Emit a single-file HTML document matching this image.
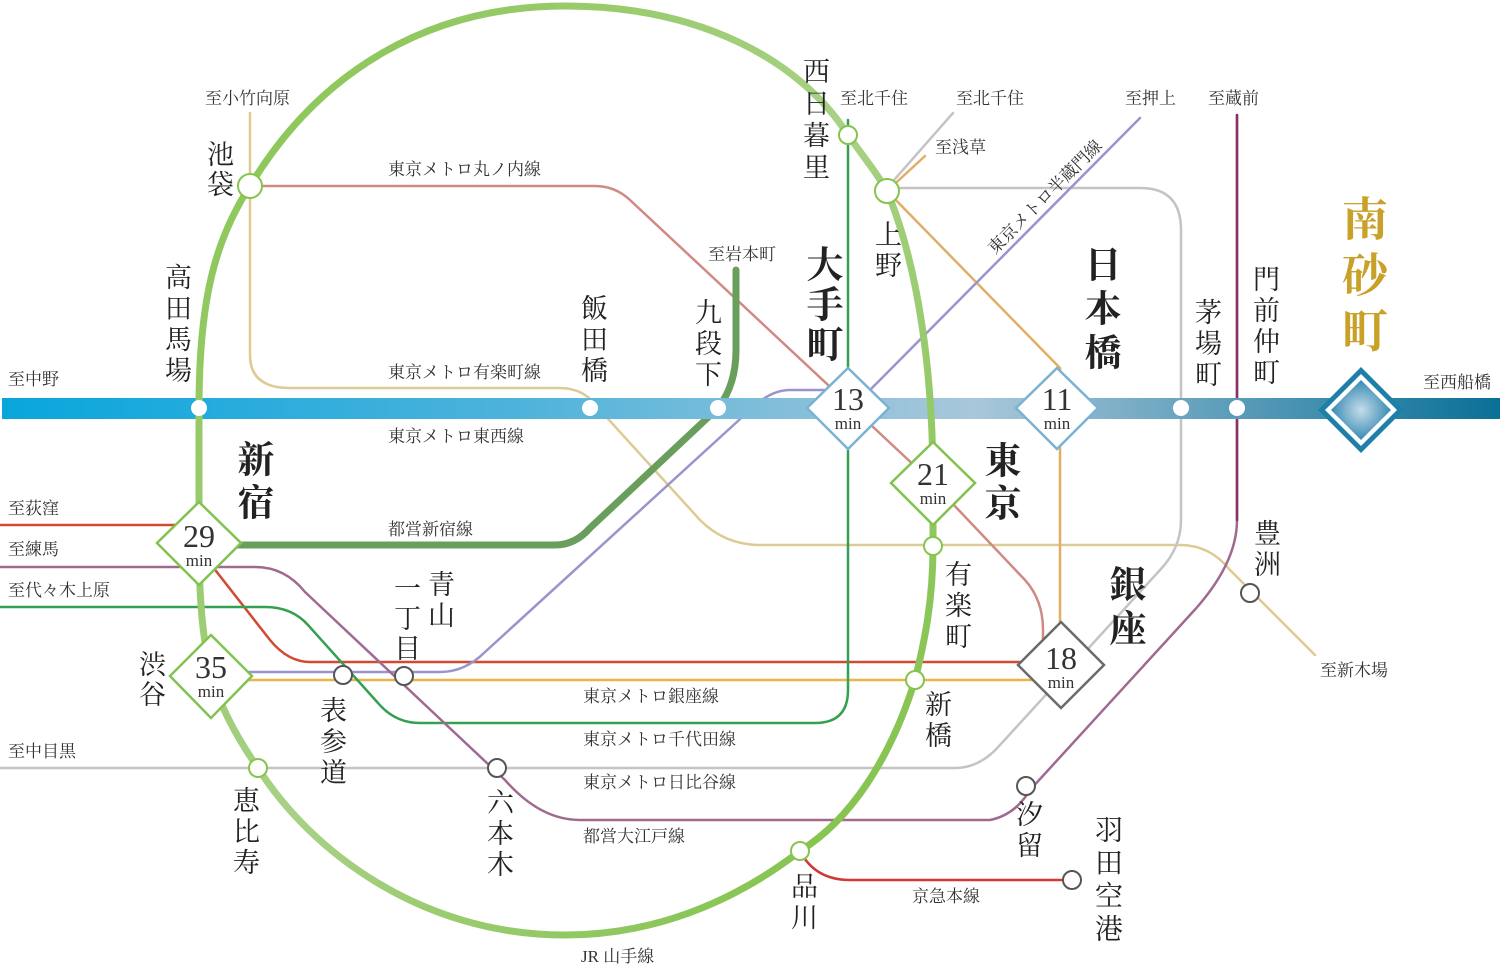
<!DOCTYPE html>
<html><head><meta charset="utf-8">
<style>
html,body{margin:0;padding:0;background:#fff;}
#w{position:relative;width:1500px;height:966px;overflow:hidden;font-family:"Liberation Serif","Noto Serif CJK SC","Noto Serif CJK JP",serif;color:#222;}
svg{position:absolute;left:0;top:0;}
.v{position:absolute;writing-mode:vertical-rl;line-height:1;white-space:nowrap;color:#222;}
.b{font-weight:bold;}
.s{position:absolute;font-size:17px;line-height:1;white-space:nowrap;color:#333;}
</style></head><body><div id="w">
<svg width="1500" height="966" viewBox="0 0 1500 966">
<defs>
<linearGradient id="tz" x1="0" x2="1500" y1="0" y2="0" gradientUnits="userSpaceOnUse">
<stop offset="0" stop-color="#08a6dc"/><stop offset="0.35" stop-color="#4fb3db"/><stop offset="0.65" stop-color="#a9c7da"/><stop offset="1" stop-color="#0a7097"/></linearGradient>
<linearGradient id="jr" x1="0" y1="0" x2="1" y2="1">
<stop offset="0" stop-color="#86c44e"/><stop offset="0.5" stop-color="#a8d186"/><stop offset="1" stop-color="#7cc040"/></linearGradient>
<radialGradient id="ms" cx="0.5" cy="0.5" r="0.6"><stop offset="0" stop-color="#c6dcea"/><stop offset="1" stop-color="#1a7aa8"/></radialGradient>
</defs>
<g fill="none" stroke-linecap="round" stroke-linejoin="round">
<path d="M250,113 L250,355 Q250,388 290,388 L560,388 Q585,388 600,410 L700,520 Q725,545 760,545 L1180,545 Q1210,545 1230,570 L1315,655" stroke="#dccb94" stroke-width="2.5"/>
<path d="M250,186 L595,186 Q615,186 630,200 L933,483 L1025,580 Q1043,600 1043,630 L1043,655" stroke="#d08a84" stroke-width="2.5"/>
<path d="M0,525 L180,525 L270,640 Q288,662 310,662 L1030,662" stroke="#d24a34" stroke-width="2.5"/>
<path d="M220,680 L1040,680" stroke="#eab448" stroke-width="2.5"/>
<path d="M1060,660 L1060,368 L887,191 L925,156" stroke="#e2ae66" stroke-width="2.5"/>
<path d="M0,768 L955,768 Q980,768 1000,745 L1160,570 Q1181,548 1181,520 L1181,230 Q1181,188 1140,188 L887,188 L953,113" stroke="#c4c4c4" stroke-width="2.5"/>
<path d="M848,120 L848,690 Q848,723 815,723 L420,723 Q395,723 378,703 L308,625 Q292,607 265,607 L0,607" stroke="#35a052" stroke-width="2.5"/>
<path d="M1140,118 L870,390 L790,390 Q770,390 750,410 L485,652 Q465,672 440,672 L230,672" stroke="#9a94cc" stroke-width="2.5"/>
<path d="M0,567 L255,567 Q285,567 305,592 L505,780 Q540,820 580,820 L990,820 Q1015,815 1030,790 L1190,615 Q1237,565 1237,520 L1237,115" stroke="#a06a90" stroke-width="2.5"/>
<path d="M1237,115 L1237,520" stroke="#8a3062" stroke-width="2.5"/>
<path d="M200,545 L555,545 Q575,545 590,528 L718,408 Q736,385 736,350 L736,270" stroke="#6a9e5c" stroke-width="7"/>
<path d="M800,851 Q815,880 850,880 L1072,880" stroke="#d23838" stroke-width="2.5"/>
<rect x="2" y="398" width="1498" height="21" fill="url(#tz)" stroke="none"/>
<path d="M199,543 L199,408 C199,300 215,240 250,186 C320,70 430,6 565,6 C700,6 800,60 848,135 C866,160 878,175 887,191 C920,270 933,380 933,483 L933,546 C933,600 925,640 915,680 C890,760 850,820 800,851 C730,905 650,935 565,935 C420,935 310,850 258,768 C235,735 220,705 211,676 C203,640 199,600 199,543 Z" stroke="url(#jr)" stroke-width="7"/>
</g>
<g stroke-width="2">
<circle cx="250" cy="186" r="12" fill="#fff" stroke="#86c44e"/>
<circle cx="887" cy="191" r="12" fill="#fff" stroke="#86c44e"/>
<circle cx="848" cy="135" r="9" fill="#fff" stroke="#86c44e"/>
<circle cx="933" cy="546" r="9" fill="#fff" stroke="#86c44e"/>
<circle cx="915" cy="680" r="9" fill="#fff" stroke="#86c44e"/>
<circle cx="800" cy="851" r="9" fill="#fff" stroke="#86c44e"/>
<circle cx="258" cy="768" r="9" fill="#fff" stroke="#86c44e"/>
<circle cx="199" cy="408" r="8" fill="#fff" stroke="none"/>
<circle cx="590" cy="408" r="8" fill="#fff" stroke="none"/>
<circle cx="718" cy="408" r="8" fill="#fff" stroke="none"/>
<circle cx="1181" cy="408" r="8" fill="#fff" stroke="none"/>
<circle cx="1237" cy="408" r="8" fill="#fff" stroke="none"/>
<circle cx="343" cy="675" r="9" fill="#fff" stroke="#555"/>
<circle cx="404" cy="676" r="9" fill="#fff" stroke="#555"/>
<circle cx="497" cy="768" r="9" fill="#fff" stroke="#555"/>
<circle cx="1026" cy="786" r="9" fill="#fff" stroke="#555"/>
<circle cx="1072" cy="880" r="9" fill="#fff" stroke="#555"/>
<circle cx="1250" cy="593" r="9" fill="#fff" stroke="#555"/>
</g>
<g fill="#fff" stroke-width="2.5">
<polygon points="848,368 889,408 848,449 807,408" stroke="#7ab2d2"/>
<polygon points="1057,368 1098,408 1057,449 1016,408" stroke="#7ab2d2"/>
<polygon points="933,442 975,483 933,525 891,483" stroke="#82c250"/>
<polygon points="199,502 241,543 199,585 157,543" stroke="#82c250"/>
<polygon points="211,635 252,676 211,718 170,676" stroke="#82c250"/>
<polygon points="1061,622 1104,665 1061,708 1018,665" stroke="#6a6a6a"/>
</g>
<polygon points="1361,367 1404,410 1361,453 1318,410" fill="#1e7fa8"/>
<polygon points="1361,374 1397,410 1361,446 1325,410" fill="#fff"/>
<polygon points="1361,380 1391,410 1361,440 1331,410" fill="url(#ms)"/>
<g font-family="Liberation Serif, serif" fill="#333" text-anchor="middle">
<text x="848" y="410" font-size="32">13</text><text x="848" y="429" font-size="17">min</text>
<text x="1057" y="410" font-size="32">11</text><text x="1057" y="429" font-size="17">min</text>
<text x="933" y="485" font-size="32">21</text><text x="933" y="504" font-size="17">min</text>
<text x="199" y="547" font-size="32">29</text><text x="199" y="566" font-size="17">min</text>
<text x="211" y="678" font-size="32">35</text><text x="211" y="697" font-size="17">min</text>
<text x="1061" y="669" font-size="32">18</text><text x="1061" y="688" font-size="17">min</text>
</g>
<text x="0" y="0" font-size="17" fill="#333" font-family="Liberation Serif, Noto Serif CJK SC, serif" transform="translate(995,255) rotate(-45)">東京メトロ半蔵門線</text>
</svg>

<div class="s" style="left:205px;top:90px">至小竹向原</div>
<div class="s" style="left:388px;top:161px">東京メトロ丸ノ内線</div>
<div class="s" style="left:708px;top:246px">至岩本町</div>
<div class="s" style="left:840px;top:90px">至北千住</div>
<div class="s" style="left:956px;top:90px">至北千住</div>
<div class="s" style="left:935px;top:139px">至浅草</div>
<div class="s" style="left:1125px;top:90px">至押上</div>
<div class="s" style="left:1208px;top:90px">至蔵前</div>
<div class="s" style="left:8px;top:371px">至中野</div>
<div class="s" style="left:388px;top:364px">東京メトロ有楽町線</div>
<div class="s" style="left:388px;top:428px">東京メトロ東西線</div>
<div class="s" style="left:1423px;top:374px">至西船橋</div>
<div class="s" style="left:8px;top:500px">至荻窪</div>
<div class="s" style="left:8px;top:541px">至練馬</div>
<div class="s" style="left:8px;top:582px">至代々木上原</div>
<div class="s" style="left:388px;top:521px">都営新宿線</div>
<div class="s" style="left:583px;top:688px">東京メトロ銀座線</div>
<div class="s" style="left:583px;top:731px">東京メトロ千代田線</div>
<div class="s" style="left:583px;top:774px">東京メトロ日比谷線</div>
<div class="s" style="left:583px;top:828px">都営大江戸線</div>
<div class="s" style="left:8px;top:743px">至中目黒</div>
<div class="s" style="left:912px;top:888px">京急本線</div>
<div class="s" style="left:581px;top:948px">JR 山手線</div>
<div class="s" style="left:1320px;top:662px">至新木場</div>

<div class="v" style="left:204px;top:140px;font-size:27px;letter-spacing:3px">池袋</div>
<div class="v" style="left:162px;top:263px;font-size:27px;letter-spacing:4px">高田馬場</div>
<div class="v b" style="left:233px;top:440px;font-size:37px;letter-spacing:6px">新宿</div>
<div class="v" style="left:136px;top:650px;font-size:27px;letter-spacing:3px">渋谷</div>
<div class="v" style="left:317px;top:696px;font-size:27px;letter-spacing:4px">表参道</div>
<div class="v" style="left:425px;top:570px;font-size:27px;letter-spacing:4px">青山</div>
<div class="v" style="left:391px;top:574px;font-size:27px;letter-spacing:3px">一丁目</div>
<div class="v" style="left:230px;top:786px;font-size:27px;letter-spacing:4px">恵比寿</div>
<div class="v" style="left:484px;top:788px;font-size:27px;letter-spacing:4px">六本木</div>
<div class="v" style="left:788px;top:872px;font-size:27px;letter-spacing:4px">品川</div>
<div class="v" style="left:1013px;top:800px;font-size:27px;letter-spacing:4px">汐留</div>
<div class="v" style="left:1092px;top:815px;font-size:28px;letter-spacing:5px">羽田空港</div>
<div class="v" style="left:922px;top:690px;font-size:27px;letter-spacing:4px">新橋</div>
<div class="v" style="left:942px;top:560px;font-size:27px;letter-spacing:4px">有楽町</div>
<div class="v b" style="left:1105px;top:565px;font-size:37px;letter-spacing:7px">銀座</div>
<div class="v b" style="left:980px;top:441px;font-size:37px;letter-spacing:6px">東京</div>
<div class="v" style="left:578px;top:294px;font-size:27px;letter-spacing:4px">飯田橋</div>
<div class="v" style="left:692px;top:298px;font-size:27px;letter-spacing:4px">九段下</div>
<div class="v b" style="left:802px;top:245px;font-size:37px;letter-spacing:3px">大手町</div>
<div class="v" style="left:800px;top:57px;font-size:27px;letter-spacing:5px">西日暮里</div>
<div class="v" style="left:872px;top:220px;font-size:27px;letter-spacing:4px">上野</div>
<div class="v b" style="left:1080px;top:245px;font-size:37px;letter-spacing:7px">日本橋</div>
<div class="v" style="left:1192px;top:298px;font-size:27px;letter-spacing:4px">茅場町</div>
<div class="v" style="left:1250px;top:265px;font-size:27px;letter-spacing:4px">門前仲町</div>
<div class="v" style="left:1251px;top:519px;font-size:27px;letter-spacing:4px">豊洲</div>
<div class="v b" style="left:1338px;top:195px;font-size:46px;letter-spacing:10px;color:#c9a028">南砂町</div>
</div></body></html>
